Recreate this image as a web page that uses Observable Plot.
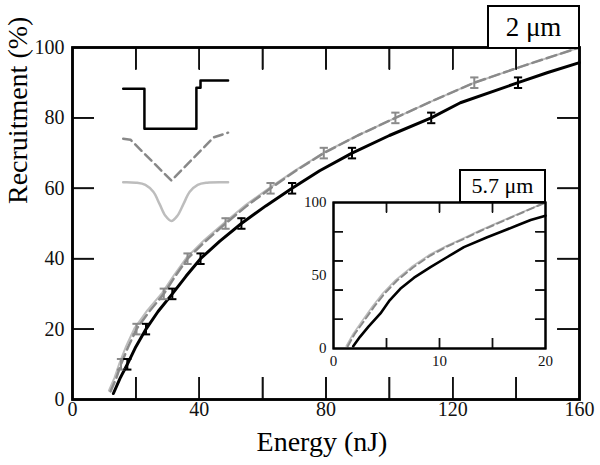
<!DOCTYPE html>
<html><head><meta charset="utf-8">
<script src="https://cdn.jsdelivr.net/npm/d3@7"></script>
<script src="https://cdn.jsdelivr.net/npm/@observablehq/plot@0.6"></script>
<style>
body{margin:0;background:#fff;}
#wrap{position:relative;width:600px;height:465px;font-family:"Liberation Serif","Times New Roman",serif;}
#wrap svg{position:absolute;}
.box{position:absolute;border:2.5px solid #000;background:#fff;box-sizing:border-box;display:flex;align-items:center;justify-content:center;font-family:"Liberation Serif",serif;color:#000;}
</style></head><body><div id="wrap"></div>
<script>
// ---------- main chart data (Energy nJ, Recruitment %) ----------
const stepEnergy  = [12.9,15,17.3,20,23.2,27,31.5,35.8,40.4,46.5,53.3,61,69.3,78,88.2,100,113.2,122.4,140.6,150,160];
const stepRecr    = [1.7,6,10,15,20,25,30,35,40,45,50,55,60,65,70,75,80,84.3,90,92.9,95.7];
const triEnergy   = [12,13.8,15.3,17.6,20.2,24.2,28.8,32.4,36.3,42,48.3,55,62.5,70.5,79.3,90,101.9,114,126.8,143,160];
const triRecr     = [2.3,6,10,15,20,25,30,35,40,45,50,55,60,65,70,75,80,85,90,95,100];
const gaussEnergy = [11.5,13.3,14.8,17,19.6,23.6,28.3,32,36,41.6,48,54.7,62.3,70.3,79.2,90,101.9,114,126.8,143,160];
const gaussRecr   = [2.5,6.3,10.3,15.3,20.3,25.3,30.3,35.3,40.3,45.3,50.3,55.3,60.2,65.1,70.1,75,80,85,90,95,100];
// measured points (error bars)
const ptRecr        = [10,20,30,40,50,60,70,80,90];
const ptEnergyBlack = [17.3,23.2,31.5,40.4,53.3,69.3,88.2,113.2,140.6];
const ptEnergyGray  = [15.3,20.2,28.8,36.3,48.3,62.5,79.3,101.9,126.8];
const errRecr = 1.5, capHalf = 1.3;
// ticks
const xTicks = [20,40,60,80,100,120,140];
const xTickLabels = [0,40,80,120,160];
const yTicks = [20,40,60,80];
const yTickLabels = [0,20,40,60,80,100];
// pulse-profile icons (in main-chart units)
const iconStepX = [16,22.7,22.7,39.1,39.1,40.4,40.4,49.1];
const iconStepY = [88.3,88.3,76.9,76.9,88.6,88.6,90.6,90.6];
const iconTriX  = [16,18.3,31.2,44.6,49.1];
const iconTriY  = [74.1,73.8,62.2,74.5,75.8];
const iconGaussX = [16,20,23,25.5,27.5,29.3,31.2,33.1,35,37,39.5,42.5,49.1];
const iconGaussY = [61.7,61.6,61,59,55.5,52.2,50.7,52.2,55.5,59,61,61.6,61.7];

// ---------- inset data (5.7 µm) ----------
const inStepE  = [1.86,2.5,3.3,4.43,5.3,6.3,7.6,9.15,10.7,12.3,14.5,16,17.3,18.6,20];
const inStepR  = [1.6,8,15,24,33,40.9,48.5,55.7,62.5,69.4,76.2,80.5,84.2,88,91];
const inTriE   = [1.35,2,2.8,3.8,4.8,6,7.5,9.15,10.7,12.3,13.8,15.4,17,18.5,20];
const inTriR   = [1.6,10,18,28.3,37.5,46.6,55.5,63.7,69.8,75.1,80.3,85.4,90.5,95.3,100];
const inGaussE = [1.2,1.85,2.65,3.65,4.65,5.85,7.35,9,10.6,12.2,13.7,15.3,16.9,18.45,20];
const inGaussR = [1.6,10,18.3,28.6,37.8,46.9,55.8,64,70,75.3,80.5,85.6,90.6,95.4,100];
const inXTicks = [5,10,15];
const inXTickLabels = [0,10,20];
const inYTicks = [20,40,60,80];
const inYTickLabels = [0,50,100];

const zip = (a,b) => a.map((v,i)=>({x:v,y:b[i]}));
const FONT = "Liberation Serif, Times New Roman, serif";
const wrap = document.getElementById("wrap");

// inward ticks on all four sides (length in pixels, converted to data units)
function frameTicks(xt, yt, xDom, yDom, fw, fh, lenPx, color, sw){
  const lx = lenPx*(xDom[1]-xDom[0])/fw, ly = lenPx*(yDom[1]-yDom[0])/fh;
  const st = {stroke:color, strokeWidth:sw};
  return [
    Plot.ruleX(xt,{x:d=>d, y1:yDom[0], y2:yDom[0]+ly, ...st}),
    Plot.ruleX(xt,{x:d=>d, y1:yDom[1]-ly, y2:yDom[1], ...st}),
    Plot.ruleY(yt,{y:d=>d, x1:xDom[0], x2:xDom[0]+lx, ...st}),
    Plot.ruleY(yt,{y:d=>d, x1:xDom[1]-lx, x2:xDom[1], ...st})
  ];
}
// same ticks through Plot's own axes (negative tick size = inward)
function axisTicks(xt, yt, lenPx, color, sw){
  const o = {tickFormat:()=>"", label:null, stroke:color, strokeWidth:sw};
  return [
    Plot.axisX({anchor:"bottom", ticks:xt, tickSize:-lenPx, ...o}),
    Plot.axisX({anchor:"top", ticks:xt, tickSize:-lenPx, ...o}),
    Plot.axisY({anchor:"left", ticks:yt, tickSize:-lenPx, ...o}),
    Plot.axisY({anchor:"right", ticks:yt, tickSize:-lenPx, ...o})
  ];
}
function safePlot(opts, extra){
  try { return Plot.plot({...opts, marks:[...opts.marks, ...extra]}); }
  catch(e){ return Plot.plot(opts); }
}

// ---------- main plot ----------
const W=600,H=465,mL=72,mR=21,mT=47,mB=66;
const fw=W-mL-mR, fh=H-mT-mB;
const xDom=[0,160], yDom=[0,100];
const pts = (E)=>E.map((e,i)=>({e, r: ptRecr[i]}));
const errMarks = (data, color) => [
  Plot.ruleX(data,{x:"e", y1:d=>d.r-errRecr, y2:d=>d.r+errRecr, stroke:color, strokeWidth:2}),
  Plot.link(data,{x1:d=>d.e-capHalf, x2:d=>d.e+capHalf, y1:d=>d.r+errRecr, y2:d=>d.r+errRecr, stroke:color, strokeWidth:2}),
  Plot.link(data,{x1:d=>d.e-capHalf, x2:d=>d.e+capHalf, y1:d=>d.r-errRecr, y2:d=>d.r-errRecr, stroke:color, strokeWidth:2})
];
const mainBase = {
  width:W, height:H, marginLeft:mL, marginRight:mR, marginTop:mT, marginBottom:mB,
  x:{domain:xDom, axis:null}, y:{domain:yDom, axis:null},
  style:{fontFamily:FONT, background:"transparent", overflow:"visible", color:"#000"}
};
const mainPlot = safePlot({...mainBase, marks:[
    ...frameTicks(xTicks, yTicks, xDom, yDom, fw, fh, 22, "#111", 1.5),
    Plot.text(xTickLabels,{x:d=>d, text:d=>String(d), frameAnchor:"bottom", dy:16, fontSize:20, fill:"#111"}),
    Plot.text(yTickLabels,{y:d=>d, text:d=>String(d), frameAnchor:"left", textAnchor:"end", dx:-8, fontSize:20, fill:"#111"}),
    Plot.text(["Energy (nJ)"],{text:d=>d, frameAnchor:"bottom", dy:51, dx:-4, fontSize:28, fill:"#000"}),
    Plot.text(["Recruitment (%)"],{text:d=>d, frameAnchor:"left", rotate:-90, dx:-54, dy:-19.5, fontSize:28, fill:"#000"}),
    Plot.line(zip(iconStepX,iconStepY),{x:"x",y:"y", stroke:"#000", strokeWidth:2.5}),
    Plot.line(zip(iconTriX,iconTriY),{x:"x",y:"y", stroke:"#888", strokeWidth:2.5, strokeDasharray:"9,5"}),
    Plot.line(zip(iconGaussX,iconGaussY),{x:"x",y:"y", stroke:"#bdbdbd", strokeWidth:2.5, curve:"catmull-rom"}),
    Plot.line(zip(gaussEnergy,gaussRecr),{x:"x",y:"y", stroke:"#bdbdbd", strokeWidth:2}),
    Plot.line(zip(triEnergy,triRecr),{x:"x",y:"y", stroke:"#8a8a8a", strokeWidth:2.5, strokeDasharray:"10,5"}),
    Plot.line(zip(stepEnergy,stepRecr),{x:"x",y:"y", stroke:"#000", strokeWidth:3}),
    ...errMarks(pts(ptEnergyGray), "#8a8a8a"),
    ...errMarks(pts(ptEnergyBlack), "#000"),
    Plot.frame({stroke:"#000", strokeWidth:2.5})
  ]}, axisTicks(xTicks, yTicks, 22, "#111", 1.5));
mainPlot.style.left="0px"; mainPlot.style.top="0px";
wrap.appendChild(mainPlot);
// overlay with ticks + frame only
const mainTicks = Plot.plot({...mainBase, marks:[
  ...frameTicks(xTicks, yTicks, xDom, yDom, fw, fh, 22, "#111", 1.5),
  Plot.frame({stroke:"#000", strokeWidth:2.5})
]});
mainTicks.style.left="0px"; mainTicks.style.top="0px";
wrap.appendChild(mainTicks);

// ---------- inset plot ----------
const iL=295,iT=195,iW=260,iH=180,imL=38,imT=7,imR=10,imB=27;
const ifw=iW-imL-imR, ifh=iH-imT-imB;
const ixDom=[0,20], iyDom=[0,100];
const insetBase = {
  width:iW, height:iH, marginLeft:imL, marginRight:imR, marginTop:imT, marginBottom:imB,
  x:{domain:ixDom, axis:null}, y:{domain:iyDom, axis:null},
  style:{fontFamily:FONT, background:"transparent", overflow:"visible", color:"#000"}
};
const insetPlot = safePlot({...insetBase, marks:[
    Plot.frame({fill:"white"}),
    Plot.text(inXTickLabels,{x:d=>d, text:d=>String(d), frameAnchor:"bottom", dy:17, fontSize:15, fill:"#111"}),
    Plot.text(inYTickLabels,{y:d=>d, text:d=>String(d), frameAnchor:"left", textAnchor:"end", dx:-7, fontSize:15, fill:"#111"}),
    Plot.line(zip(inGaussE,inGaussR),{x:"x",y:"y", stroke:"#bdbdbd", strokeWidth:1.6}),
    Plot.line(zip(inTriE,inTriR),{x:"x",y:"y", stroke:"#8a8a8a", strokeWidth:2, strokeDasharray:"7,4"}),
    Plot.line(zip(inStepE,inStepR),{x:"x",y:"y", stroke:"#000", strokeWidth:2.6}),
    ...frameTicks(inXTicks, inYTicks, ixDom, iyDom, ifw, ifh, 10, "#111", 1.3),
    Plot.frame({stroke:"#000", strokeWidth:2})
  ]}, axisTicks(inXTicks, inYTicks, 10, "#111", 1.3));
insetPlot.style.left=iL+"px"; insetPlot.style.top=iT+"px";
wrap.appendChild(insetPlot);
const insetTicks = Plot.plot({...insetBase, marks:[
  ...frameTicks(inXTicks, inYTicks, ixDom, iyDom, ifw, ifh, 10, "#111", 1.3),
  Plot.frame({stroke:"#000", strokeWidth:2})
]});
insetTicks.style.left=iL+"px"; insetTicks.style.top=iT+"px";
wrap.appendChild(insetTicks);

// ---------- label boxes ----------
function addBox(text,left,top,w,h,fs){
  const d=document.createElement("div");
  d.className="box"; d.textContent=text;
  Object.assign(d.style,{left:left+"px",top:top+"px",width:w+"px",height:h+"px",fontSize:fs+"px"});
  wrap.appendChild(d);
}
addBox("2 μm",487,5,93,44,27);
addBox("5.7 μm",459,169,87,34,22);
</script>
</body></html>
